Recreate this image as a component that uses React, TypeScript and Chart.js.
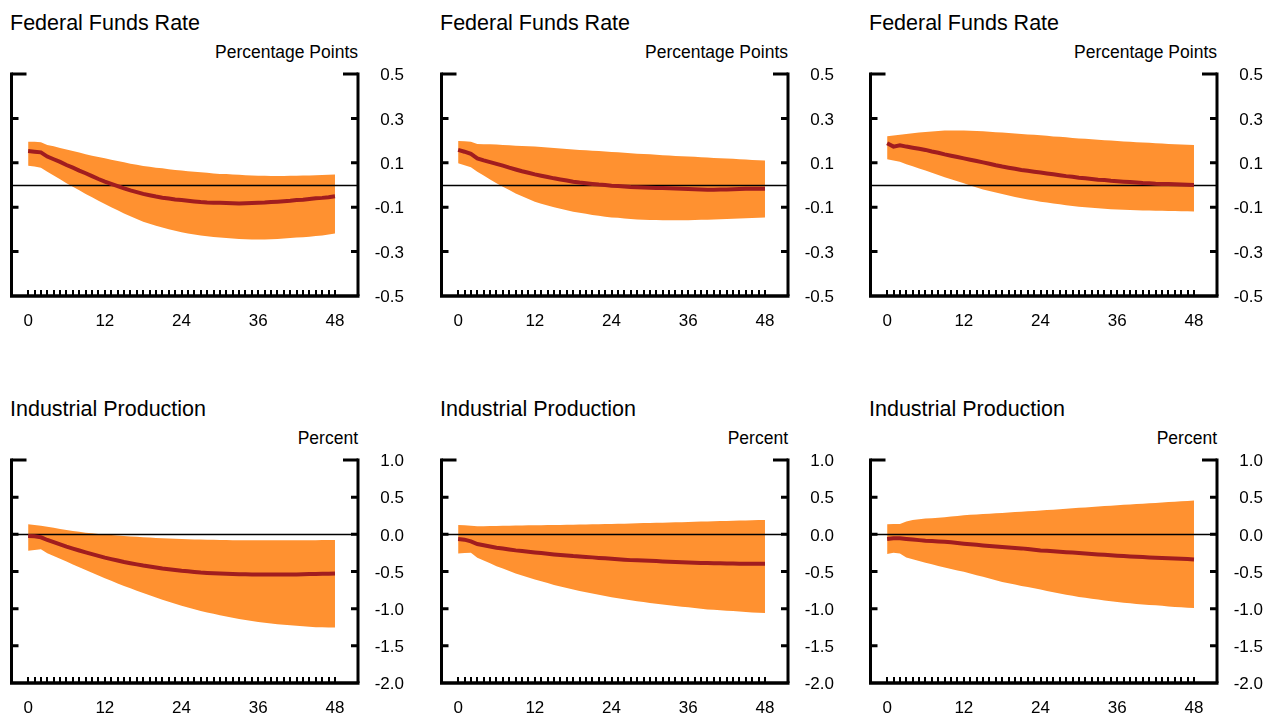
import React, { useEffect, useRef } from 'react';
import { Chart, registerables, Plugin } from 'chart.js';

Chart.register(...registerables);

const FONT = '"Liberation Sans", Arial, Helvetica, sans-serif';
const BAND = '#FF9130';
const LINE = '#A11D1F';

// months after the shock
const months = [
  0, 1, 2, 3, 4, 5, 6, 7, 8, 9, 10, 11, 12, 13, 14, 15, 16, 17, 18, 19, 20, 21, 22, 23, 24,
  25, 26, 27, 28, 29, 30, 31, 32, 33, 34, 35, 36, 37, 38, 39, 40, 41, 42, 43, 44, 45, 46, 47, 48,
];
const monthTicks = [0, 12, 24, 36, 48];
const ffrTicks = [-0.5, -0.3, -0.1, 0.1, 0.3, 0.5];
const ipTicks = [-2.0, -1.5, -1.0, -0.5, 0.0, 0.5, 1.0];

// Federal funds rate, left panel
const ffrMid1 = [
  0.153, 0.150, 0.147, 0.128, 0.116, 0.104, 0.090, 0.078, 0.065, 0.053, 0.040, 0.027, 0.015,
  0.005, -0.005, -0.015, -0.024, -0.032, -0.040, -0.046, -0.052, -0.057, -0.061, -0.065, -0.068,
  -0.071, -0.074, -0.077, -0.079, -0.080, -0.080, -0.081, -0.082, -0.083, -0.082, -0.081, -0.080,
  -0.079, -0.077, -0.075, -0.073, -0.071, -0.068, -0.066, -0.063, -0.060, -0.058, -0.055, -0.051,
];
const ffrHi1 = [
  0.195, 0.195, 0.193, 0.180, 0.174, 0.167, 0.160, 0.153, 0.146, 0.139, 0.132, 0.126, 0.120,
  0.114, 0.108, 0.102, 0.096, 0.091, 0.086, 0.082, 0.078, 0.075, 0.071, 0.068, 0.065,
  0.062, 0.060, 0.057, 0.055, 0.052, 0.050, 0.049, 0.047, 0.046, 0.044, 0.043, 0.042,
  0.042, 0.041, 0.041, 0.041, 0.042, 0.042, 0.043, 0.043, 0.044, 0.045, 0.046, 0.047,
];
const ffrLo1 = [
  0.087, 0.083, 0.078, 0.060, 0.043, 0.026, 0.008, -0.008, -0.024, -0.040, -0.055, -0.071, -0.086,
  -0.100, -0.114, -0.128, -0.141, -0.153, -0.165, -0.174, -0.183, -0.192, -0.199, -0.206, -0.213,
  -0.218, -0.223, -0.227, -0.231, -0.234, -0.237, -0.239, -0.241, -0.243, -0.244, -0.245, -0.245,
  -0.245, -0.244, -0.243, -0.241, -0.239, -0.237, -0.235, -0.233, -0.230, -0.227, -0.223, -0.218,
];

// Federal funds rate, middle panel
const ffrMid2 = [
  0.158, 0.150, 0.140, 0.120, 0.111, 0.103, 0.095, 0.087, 0.078, 0.070, 0.062, 0.055, 0.048,
  0.042, 0.036, 0.030, 0.025, 0.020, 0.015, 0.011, 0.008, 0.005, 0.002, 0.000, -0.003,
  -0.005, -0.007, -0.009, -0.010, -0.011, -0.012, -0.013, -0.014, -0.015, -0.016, -0.017, -0.018,
  -0.019, -0.020, -0.021, -0.021, -0.020, -0.020, -0.019, -0.018, -0.017, -0.017, -0.017, -0.017,
];
const ffrHi2 = [
  0.198, 0.197, 0.195, 0.185, 0.184, 0.183, 0.182, 0.180, 0.179, 0.177, 0.176, 0.174, 0.173,
  0.171, 0.169, 0.167, 0.164, 0.162, 0.160, 0.158, 0.156, 0.154, 0.153, 0.151, 0.149,
  0.147, 0.145, 0.143, 0.141, 0.140, 0.138, 0.136, 0.134, 0.133, 0.131, 0.130, 0.128,
  0.127, 0.125, 0.124, 0.122, 0.121, 0.119, 0.118, 0.116, 0.115, 0.113, 0.112, 0.110,
];
const ffrLo2 = [
  0.098, 0.089, 0.080, 0.060, 0.043, 0.025, 0.008, -0.008, -0.023, -0.038, -0.051, -0.063, -0.075,
  -0.084, -0.092, -0.100, -0.107, -0.114, -0.120, -0.125, -0.130, -0.135, -0.139, -0.143, -0.146,
  -0.148, -0.151, -0.153, -0.155, -0.157, -0.158, -0.158, -0.159, -0.159, -0.159, -0.159, -0.159,
  -0.158, -0.157, -0.156, -0.155, -0.154, -0.153, -0.152, -0.151, -0.150, -0.149, -0.148, -0.146,
];

// Federal funds rate, right panel
const ffrMid3 = [
  0.188, 0.173, 0.179, 0.173, 0.168, 0.163, 0.158, 0.151, 0.145, 0.138, 0.132, 0.126, 0.120,
  0.114, 0.108, 0.102, 0.096, 0.089, 0.083, 0.078, 0.073, 0.068, 0.064, 0.060, 0.056,
  0.052, 0.048, 0.044, 0.040, 0.037, 0.033, 0.030, 0.027, 0.024, 0.022, 0.019, 0.017,
  0.015, 0.013, 0.011, 0.009, 0.008, 0.006, 0.005, 0.004, 0.003, 0.002, 0.001, 0.000,
];
const ffrHi3 = [
  0.220, 0.223, 0.226, 0.230, 0.233, 0.236, 0.239, 0.241, 0.243, 0.245, 0.245, 0.246, 0.245,
  0.244, 0.243, 0.242, 0.240, 0.238, 0.236, 0.234, 0.232, 0.230, 0.228, 0.226, 0.224,
  0.222, 0.219, 0.217, 0.215, 0.212, 0.210, 0.208, 0.206, 0.204, 0.202, 0.200, 0.198,
  0.196, 0.195, 0.193, 0.191, 0.190, 0.188, 0.187, 0.185, 0.184, 0.182, 0.181, 0.180,
];
const ffrLo3 = [
  0.116, 0.110, 0.105, 0.093, 0.084, 0.074, 0.065, 0.055, 0.045, 0.035, 0.026, 0.017, 0.008,
  -0.002, -0.011, -0.020, -0.027, -0.034, -0.040, -0.047, -0.054, -0.060, -0.065, -0.070, -0.075,
  -0.079, -0.083, -0.087, -0.091, -0.095, -0.098, -0.100, -0.103, -0.105, -0.107, -0.109, -0.110,
  -0.112, -0.113, -0.114, -0.115, -0.115, -0.116, -0.116, -0.117, -0.117, -0.118, -0.118, -0.119,
];

// Industrial production, left panel
const ipMid1 = [
  -0.022, -0.027, -0.040, -0.076, -0.106, -0.136, -0.166, -0.192, -0.217, -0.242, -0.266, -0.290, -0.313,
  -0.333, -0.353, -0.372, -0.388, -0.404, -0.420, -0.433, -0.447, -0.460, -0.470, -0.480, -0.490,
  -0.498, -0.507, -0.515, -0.519, -0.524, -0.528, -0.531, -0.534, -0.537, -0.538, -0.539, -0.540,
  -0.540, -0.540, -0.540, -0.540, -0.540, -0.540, -0.538, -0.535, -0.533, -0.531, -0.530, -0.528,
];
const ipHi1 = [
  0.134, 0.125, 0.116, 0.103, 0.088, 0.073, 0.058, 0.046, 0.034, 0.022, 0.013, 0.004, -0.004,
  -0.010, -0.016, -0.022, -0.028, -0.034, -0.040, -0.044, -0.048, -0.052, -0.056, -0.060, -0.063,
  -0.065, -0.068, -0.070, -0.072, -0.074, -0.076, -0.077, -0.078, -0.078, -0.079, -0.079, -0.080,
  -0.080, -0.080, -0.080, -0.080, -0.080, -0.080, -0.079, -0.079, -0.078, -0.077, -0.077, -0.076,
];
const ipLo1 = [
  -0.220, -0.210, -0.200, -0.255, -0.292, -0.330, -0.367, -0.405, -0.443, -0.480, -0.517, -0.553, -0.590,
  -0.625, -0.660, -0.694, -0.726, -0.758, -0.790, -0.820, -0.850, -0.880, -0.907, -0.933, -0.960,
  -0.983, -1.007, -1.030, -1.050, -1.070, -1.090, -1.107, -1.123, -1.140, -1.153, -1.167, -1.180,
  -1.190, -1.200, -1.210, -1.217, -1.223, -1.230, -1.237, -1.243, -1.250, -1.251, -1.253, -1.254,
];

// Industrial production, middle panel
const ipMid2 = [
  -0.063, -0.072, -0.095, -0.130, -0.147, -0.164, -0.180, -0.192, -0.204, -0.216, -0.225, -0.234, -0.243,
  -0.252, -0.261, -0.270, -0.278, -0.285, -0.293, -0.299, -0.304, -0.310, -0.317, -0.323, -0.329,
  -0.335, -0.341, -0.347, -0.350, -0.353, -0.356, -0.360, -0.365, -0.369, -0.372, -0.375, -0.378,
  -0.381, -0.384, -0.387, -0.389, -0.390, -0.392, -0.393, -0.395, -0.396, -0.396, -0.396, -0.396,
];
const ipHi2 = [
  0.126, 0.122, 0.117, 0.108, 0.110, 0.112, 0.113, 0.115, 0.116, 0.118, 0.119, 0.121, 0.122,
  0.123, 0.125, 0.126, 0.127, 0.129, 0.130, 0.132, 0.133, 0.135, 0.137, 0.138, 0.140,
  0.142, 0.144, 0.146, 0.148, 0.151, 0.153, 0.155, 0.157, 0.160, 0.162, 0.164, 0.167,
  0.169, 0.171, 0.173, 0.176, 0.178, 0.180, 0.182, 0.185, 0.187, 0.189, 0.192, 0.194,
];
const ipLo2 = [
  -0.257, -0.252, -0.248, -0.315, -0.353, -0.390, -0.428, -0.461, -0.494, -0.527, -0.554, -0.581, -0.608,
  -0.632, -0.656, -0.680, -0.701, -0.722, -0.743, -0.761, -0.779, -0.797, -0.814, -0.830, -0.847,
  -0.860, -0.874, -0.887, -0.899, -0.911, -0.923, -0.934, -0.944, -0.955, -0.964, -0.973, -0.982,
  -0.991, -1.001, -1.010, -1.016, -1.021, -1.027, -1.033, -1.039, -1.045, -1.050, -1.054, -1.059,
];

// Industrial production, right panel
const ipMid3 = [
  -0.063, -0.054, -0.054, -0.063, -0.071, -0.078, -0.086, -0.090, -0.095, -0.099, -0.108, -0.117, -0.126,
  -0.134, -0.141, -0.149, -0.156, -0.164, -0.171, -0.177, -0.183, -0.189, -0.198, -0.207, -0.216,
  -0.222, -0.228, -0.234, -0.240, -0.246, -0.252, -0.258, -0.264, -0.270, -0.276, -0.282, -0.288,
  -0.293, -0.297, -0.302, -0.306, -0.311, -0.315, -0.318, -0.321, -0.324, -0.329, -0.333, -0.338,
];
const ipHi3 = [
  0.135, 0.138, 0.140, 0.171, 0.194, 0.203, 0.212, 0.218, 0.224, 0.230, 0.239, 0.248, 0.257,
  0.262, 0.267, 0.273, 0.278, 0.283, 0.288, 0.293, 0.299, 0.304, 0.309, 0.315, 0.320,
  0.326, 0.332, 0.338, 0.344, 0.350, 0.356, 0.362, 0.368, 0.374, 0.380, 0.386, 0.392,
  0.397, 0.402, 0.408, 0.413, 0.418, 0.423, 0.428, 0.434, 0.439, 0.444, 0.450, 0.455,
];
const ipLo3 = [
  -0.266, -0.248, -0.257, -0.310, -0.334, -0.359, -0.383, -0.404, -0.425, -0.446, -0.466, -0.485, -0.505,
  -0.527, -0.550, -0.572, -0.595, -0.617, -0.640, -0.658, -0.676, -0.694, -0.710, -0.727, -0.743,
  -0.761, -0.779, -0.797, -0.812, -0.827, -0.842, -0.854, -0.866, -0.878, -0.889, -0.900, -0.910,
  -0.919, -0.928, -0.937, -0.943, -0.949, -0.955, -0.962, -0.970, -0.977, -0.982, -0.986, -0.990,
];

// draws the bracket frame, inward ticks, monthly minor ticks and the zero line
const framePlugin: Plugin<'line'> = {
  id: 'frame',
  afterDatasetDraw(chart, args) {
    if (args.index !== 1) return;
    const { ctx, chartArea: a } = chart;
    const y0 = Math.round(chart.scales.y.getPixelForValue(0)) + 0.5;
    ctx.save();
    ctx.strokeStyle = '#000';
    ctx.lineWidth = 1.3;
    ctx.beginPath();
    ctx.moveTo(a.left, y0);
    ctx.lineTo(a.right, y0);
    ctx.stroke();
    ctx.restore();
  },
  afterDraw(chart) {
    const { ctx, chartArea: a } = chart;
    const xs = chart.scales.x;
    const ys = chart.scales.y;
    ctx.save();
    ctx.strokeStyle = '#000';
    ctx.lineCap = 'butt';

    // sides and bottom
    ctx.lineWidth = 3;
    ctx.beginPath();
    ctx.moveTo(a.left, a.top - 1.5);
    ctx.lineTo(a.left, a.bottom);
    ctx.moveTo(a.right, a.top - 1.5);
    ctx.lineTo(a.right, a.bottom);
    ctx.stroke();
    ctx.lineWidth = 3.5;
    ctx.beginPath();
    ctx.moveTo(a.left - 1.5, a.bottom);
    ctx.lineTo(a.right + 1.5, a.bottom);
    ctx.stroke();

    // y ticks pointing inwards
    ctx.lineWidth = 3;
    ctx.beginPath();
    ys.ticks.forEach((t) => {
      if (t.value === ys.min) return;
      const py = ys.getPixelForValue(t.value);
      const len = t.value === ys.max ? 15 : 7;
      ctx.moveTo(a.left, py);
      ctx.lineTo(a.left + len, py);
      ctx.moveTo(a.right, py);
      ctx.lineTo(a.right - len, py);
    });
    ctx.stroke();

    // monthly minor ticks on the bottom axis
    ctx.lineWidth = 2;
    ctx.beginPath();
    months.forEach((m) => {
      const px = Math.round(xs.getPixelForValue(m));
      ctx.moveTo(px, a.bottom);
      ctx.lineTo(px, a.bottom - 6);
    });
    ctx.stroke();
    ctx.restore();
  },
};

type PanelProps = {
  title: string;
  unit: string;
  mid: number[];
  hi: number[];
  lo: number[];
  yTicks: number[];
  left: number;
  top: number;
  height: number;
};

const W = 408;

const Panel: React.FC<PanelProps> = ({ title, unit, mid, hi, lo, yTicks, left, top, height }) => {
  const canvasRef = useRef<HTMLCanvasElement | null>(null);
  const chartRef = useRef<Chart<'line'> | null>(null);

  useEffect(() => {
    const canvas = canvasRef.current;
    if (!canvas) return;
    if (chartRef.current) chartRef.current.destroy();

    const pts = (arr: number[]) => months.map((m, i) => ({ x: m, y: arr[i] }));
    const tickFont = { family: FONT, size: 17 };

    chartRef.current = new Chart(canvas, {
      type: 'line',
      data: {
        datasets: [
          { label: 'lower', data: pts(lo), borderWidth: 0, pointRadius: 0, fill: false, order: 2 },
          {
            label: 'upper',
            data: pts(hi),
            borderWidth: 0,
            pointRadius: 0,
            backgroundColor: BAND,
            fill: '-1',
            order: 1,
          },
          {
            label: 'median',
            data: pts(mid),
            borderColor: LINE,
            borderWidth: 4,
            pointRadius: 0,
            fill: false,
            order: 0,
          },
        ],
      },
      options: {
        animation: false,
        responsive: false,
        maintainAspectRatio: false,
        layout: { padding: { left: 11.5, top: 14, right: 4, bottom: 0 } },
        plugins: { legend: { display: false }, tooltip: { enabled: false } },
        scales: {
          x: {
            type: 'linear',
            min: -2.6,
            max: 51.6,
            grid: { display: false, drawTicks: false },
            border: { display: false },
            afterBuildTicks: (s) => {
              s.ticks = monthTicks.map((v) => ({ value: v }));
            },
            afterFit: (s) => {
              s.height = 34;
            },
            ticks: { font: tickFont, color: '#000', padding: 15, maxRotation: 0, autoSkip: false },
          },
          y: {
            position: 'right',
            min: yTicks[0],
            max: yTicks[yTicks.length - 1],
            grid: { display: false, drawTicks: false },
            border: { display: false },
            afterBuildTicks: (s) => {
              s.ticks = yTicks.map((v) => ({ value: v }));
            },
            afterFit: (s) => {
              s.width = 46;
            },
            ticks: {
              font: tickFont,
              color: '#000',
              crossAlign: 'far',
              labelOffset: 1.5,
              autoSkip: false,
              callback: (v) => Number(v).toFixed(1),
            },
          },
        },
      },
      plugins: [framePlugin],
    });

    return () => {
      if (chartRef.current) {
        chartRef.current.destroy();
        chartRef.current = null;
      }
    };
  }, [mid, hi, lo, yTicks]);

  return (
    <div style={{ position: 'absolute', left, top, width: W, height: height + 60 }}>
      <div
        style={{
          position: 'absolute',
          left: 10,
          top: 13,
          fontFamily: FONT,
          fontSize: 21.5,
          lineHeight: '21px',
          color: '#000',
          whiteSpace: 'nowrap',
        }}
      >
        {title}
      </div>
      <div
        style={{
          position: 'absolute',
          left: 0,
          width: 358,
          top: 44,
          textAlign: 'right',
          fontFamily: FONT,
          fontSize: 17.5,
          lineHeight: '17.5px',
          color: '#000',
          whiteSpace: 'nowrap',
        }}
      >
        {unit}
      </div>
      <canvas
        ref={canvasRef}
        width={W}
        height={height}
        style={{ position: 'absolute', left: 0, top: 60, width: W, height }}
      />
    </div>
  );
};

const cols = [0, 430, 859];

const App: React.FC = () => (
  <div
    style={{
      position: 'absolute',
      left: 0,
      top: 0,
      width: 1268,
      height: 713,
      overflow: 'hidden',
      background: '#fff',
    }}
  >
    <Panel title="Federal Funds Rate" unit="Percentage Points" mid={ffrMid1} hi={ffrHi1} lo={ffrLo1} yTicks={ffrTicks} left={cols[0]} top={0} height={270} />
    <Panel title="Federal Funds Rate" unit="Percentage Points" mid={ffrMid2} hi={ffrHi2} lo={ffrLo2} yTicks={ffrTicks} left={cols[1]} top={0} height={270} />
    <Panel title="Federal Funds Rate" unit="Percentage Points" mid={ffrMid3} hi={ffrHi3} lo={ffrLo3} yTicks={ffrTicks} left={cols[2]} top={0} height={270} />
    <Panel title="Industrial Production" unit="Percent" mid={ipMid1} hi={ipHi1} lo={ipLo1} yTicks={ipTicks} left={cols[0]} top={386} height={271} />
    <Panel title="Industrial Production" unit="Percent" mid={ipMid2} hi={ipHi2} lo={ipLo2} yTicks={ipTicks} left={cols[1]} top={386} height={271} />
    <Panel title="Industrial Production" unit="Percent" mid={ipMid3} hi={ipHi3} lo={ipLo3} yTicks={ipTicks} left={cols[2]} top={386} height={271} />
  </div>
);

export default App;
